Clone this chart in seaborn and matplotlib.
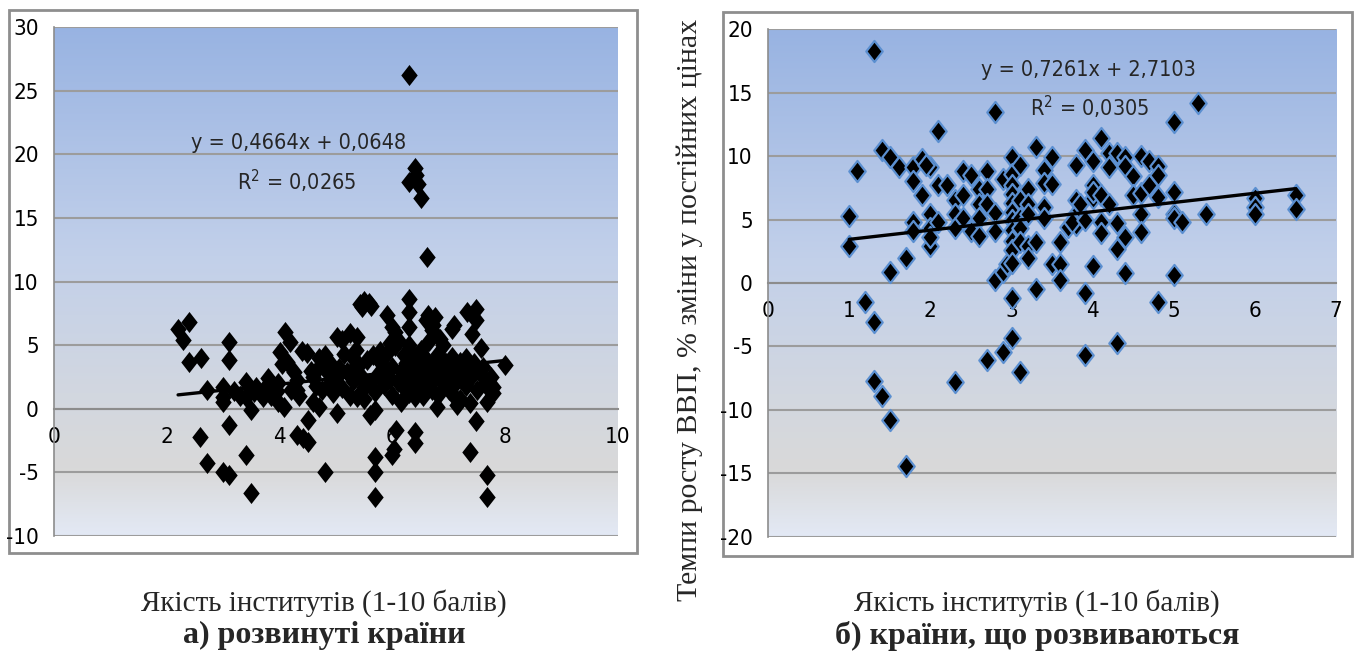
import numpy as np
import seaborn as sns
import matplotlib.pyplot as plt
from matplotlib.colors import LinearSegmentedColormap
from matplotlib.patches import Rectangle
from matplotlib.path import Path

# a) developed countries: institutional quality vs GDP growth
dev_x = [6.29, 6.40, 6.42, 6.29, 6.45, 6.51, 6.61, 6.29, 6.30, 6.30,
         5.43, 5.50, 5.58, 5.62, 5.47, 5.90, 5.99, 6.64, 6.69, 7.32,
         7.49, 7.49, 7.41, 7.05, 7.10, 7.58, 8.00, 7.49, 7.38, 7.67,
         7.67, 6.79, 7.15, 7.38, 7.67, 7.79, 7.79, 6.07, 6.02, 6.40,
         6.40, 5.99, 2.20, 2.40, 2.29, 2.40, 2.60, 2.71, 2.59, 2.71,
         3.00, 3.00, 3.00, 3.10, 3.10, 3.10, 3.00, 3.10, 3.41, 3.41,
         3.50, 3.41, 3.50, 3.59, 3.71, 3.80, 3.98, 3.98, 4.07, 3.95,
         3.85, 3.65, 4.10, 4.18, 4.00, 4.13, 4.30, 4.30, 4.30, 4.42,
         4.51, 4.51, 4.48, 4.40, 4.69, 4.80, 4.69, 4.80, 4.75, 4.89,
         5.01, 5.10, 5.01, 5.25, 5.37, 5.30, 5.30, 5.37, 5.49, 5.60,
         5.69, 5.69, 5.69, 5.69, 5.78, 5.83,
         4.55, 4.60, 4.65, 4.70, 4.85, 4.90, 4.95, 5.00, 5.05, 5.10,
         5.15, 5.20, 5.25, 5.30, 5.35, 5.40, 5.45, 5.50, 5.55, 5.60,
         5.65, 5.70, 5.75, 5.80, 5.85, 5.90, 5.95, 6.00, 6.00, 6.05,
         6.10, 6.10, 6.15, 6.15, 6.20, 6.20, 6.25, 6.25, 6.30, 6.30,
         6.35, 6.35, 6.35, 6.40, 6.40, 6.45, 6.45, 6.50, 6.50, 6.55,
         6.55, 6.60, 6.60, 6.65, 6.65, 6.70, 6.70, 6.75, 6.80, 6.80,
         6.85, 6.90, 6.90, 6.95, 7.00, 7.00, 7.05, 7.10, 7.10, 7.15,
         7.20, 7.20, 7.25, 7.30, 7.30, 7.35, 7.40, 7.45, 7.50, 7.55,
         7.60, 7.65, 7.70, 7.75,
         5.95, 6.05, 6.70, 6.85, 6.60, 6.75, 6.72,
         4.05, 4.25, 4.35, 4.60, 4.20, 3.90, 3.75, 3.55, 3.45, 3.30, 3.20]
dev_y = [26.2, 18.9, 18.4, 17.8, 17.7, 16.6, 11.9, 8.6, 7.6, 6.45,
         8.2, 8.5, 8.3, 8.1, 8.0, 7.4, 6.45, 7.4, 6.9, 7.6,
         7.8, 7.0, 5.9, 6.25, 6.6, 4.75, 3.4, -1.0, -3.4, -5.2,
         -6.9, 0.16, 0.3, 0.43, 0.55, 1.73, 1.2, -1.67, -3.2, -1.8,
         -2.7, -3.6, 6.3, 6.8, 5.4, 3.7, 3.95, 1.47, -2.2, -4.3,
         1.73, 0.94, 0.55, 5.27, 3.83, -1.27, -4.95, -5.2, 2.13, 0.95,
         -0.1, -3.63, -6.6, 1.73, 0.95, 2.4, 2.0, 0.55, 0.15, 1.4,
         1.0, 1.2, 6.05, 5.27, 4.48, 3.7, 2.26, 1.47, -2.06, -2.3,
         -2.6, -0.88, 4.35, 4.5, 3.96, 4.2, 0.16, -4.95, 1.47, 2.0,
         5.66, 5.4, -0.36, 5.93, 5.66, 4.0, 3.1, 0.9, 0.8, -0.5,
         -0.1, -3.77, -4.95, -6.9, 4.5, 3.1,
         3.0, 2.5, 1.8, 3.3, 2.8, 3.6, 1.2, 2.4, 3.2, 1.6,
         4.3, 2.9, 1.0, 2.2, 4.6, 3.4, 2.6, 1.7, 3.8, 2.0,
         4.2, 1.3, 2.7, 3.6, 1.9, 4.4, 2.4, 3.3, 1.1, 4.9,
         2.1, 5.4, 3.0, 0.5, 1.6, 4.2, 2.6, 3.6, 1.2, 5.0,
         2.2, 3.2, 4.3, 0.9, 2.8, 3.8, 1.8, 2.4, 4.6, 3.2,
         1.0, 2.0, 3.9, 2.9, 5.3, 1.5, 3.5, 2.4, 4.3, 1.1,
         3.0, 2.0, 5.0, 3.6, 1.5, 2.6, 4.1, 3.1, 1.0, 2.2,
         3.7, 0.8, 2.8, 1.8, 4.0, 3.2, 2.5, 3.6, 1.5, 2.8,
         3.3, 2.0, 1.6, 2.5,
         5.2, 6.0, 6.2, 5.5, 7.0, 7.2, 6.6,
         3.5, 2.9, 1.0, 0.5, 1.5, 1.8, 1.6, 1.3, 1.7, 1.0, 1.4]

# b) developing countries
dvp_x = [1.31, 1.0, 1.0, 1.1, 1.2, 1.31, 1.31, 1.4, 1.5, 1.7,
         1.4, 1.5, 1.61, 1.5, 1.7, 1.79, 1.79, 1.9, 1.9, 1.79,
         1.79, 2.0, 2.0, 2.0, 2.0, 2.1, 2.1, 2.1, 2.0, 1.95,
         2.2, 2.3, 2.3, 2.3, 2.3, 2.4, 2.4, 2.4, 2.5, 2.5,
         2.6, 2.6, 2.6, 2.6, 2.7, 2.7, 2.7, 2.7, 2.8, 2.8,
         2.8, 2.8, 2.9, 2.9, 2.9, 2.95, 3.0, 3.0, 3.0, 3.0,
         3.0, 3.0, 3.0, 3.0, 3.0, 3.0, 3.0, 3.0, 3.0, 3.1,
         3.1, 3.1, 3.1, 3.1, 3.1, 3.2, 3.2, 3.2, 3.2, 3.2,
         3.3, 3.3, 3.3, 3.4, 3.4, 3.4, 3.4, 3.5, 3.5, 3.5,
         3.6, 3.6, 3.6, 3.7, 3.8, 3.8, 3.8, 3.8, 3.75, 3.9,
         3.9, 3.9, 3.9, 3.85, 4.0, 4.0, 4.0, 4.0, 4.0, 4.1,
         4.1, 4.1, 4.1, 4.2, 4.2, 4.2, 4.3, 4.3, 4.3, 4.3,
         4.4, 4.4, 4.4, 4.4, 4.5, 4.5, 4.6, 4.6, 4.6, 4.6,
         4.7, 4.7, 4.8, 4.8, 4.8, 4.8, 5.0, 5.0, 5.0, 5.0,
         5.0, 5.1, 5.3, 5.4, 6.0, 6.0, 6.0, 6.5, 6.5]
dvp_y = [18.3, 5.3, 2.9, 8.8, -1.5, -3.1, -7.7, -8.9, -10.8, -14.4,
         10.5, 9.9, 9.1, 0.9, 2.0, 9.1, 8.0, 9.8, 6.9, 4.8,
         4.1, 9.1, 5.4, 4.3, 2.9, 7.7, 12.0, 4.8, 3.6, 9.3,
         7.7, 6.5, 5.4, 4.3, -7.8, 8.8, 6.9, 5.1, 8.5, 4.1,
         7.4, 6.2, 5.1, 3.7, 8.8, 7.4, 6.2, -6.1, 13.5, 5.5,
         4.1, 0.2, 8.2, 0.9, -5.4, 1.5, 9.9, 8.6, 7.7, 7.0,
         6.3, 5.6, 5.0, 4.2, 3.3, 2.6, 1.6, -1.2, -4.3, 9.3,
         6.5, 5.1, 4.3, 3.2, -7.0, 7.4, 6.2, 2.9, 2.0, 5.4,
         10.7, 3.2, -0.5, 8.9, 7.9, 6.0, 5.1, 9.9, 7.8, 1.5,
         3.2, 1.5, 0.2, 4.4, 9.3, 6.5, 5.4, 4.6, 4.8, 10.5,
         5.0, -0.8, -5.7, 6.2, 9.6, 7.7, 6.7, 1.3, 7.2, 11.4,
         6.9, 4.8, 3.9, 10.2, 9.1, 6.2, 10.2, 4.7, 2.7, -4.7,
         9.9, 9.2, 3.6, 0.8, 8.4, 6.9, 10.0, 5.4, 4.0, 7.1,
         9.6, 7.7, 9.2, 8.5, 6.8, -1.5, 12.7, 7.2, 5.4, 5.1,
         0.6, 4.8, 14.2, 5.4, 6.7, 6.0, 5.4, 6.9, 5.8]

# linear trend (slope, intercept, R^2) as printed on the charts
dev_fit = (0.4664, 0.0648, 0.0265)
dvp_fit = (0.7261, 2.7103, 0.0305)

serif = ['Liberation Serif', 'DejaVu Serif']

sns.set_style('white')
plt.rcParams['font.family'] = ['DejaVu Sans']
plt.rcParams['font.stretch'] = 'condensed'

bg = LinearSegmentedColormap.from_list('bg', [
    (0.0, '#98B3E2'), (0.45, '#C2D0EA'), (0.72, '#D2D7E0'),
    (0.87, '#D9D9D9'), (1.0, '#E3E9F5')])
diamond = Path([(0, 1), (0.78, 0), (0, -1), (-0.78, 0), (0, 1)],
               [Path.MOVETO, Path.LINETO, Path.LINETO, Path.LINETO, Path.CLOSEPOLY])

fig = plt.figure(figsize=(13.57, 6.52), dpi=100)

fig.add_artist(Rectangle((0.0066, 0.1518), 0.4628, 0.8328, transform=fig.transFigure,
                         fill=False, edgecolor='#8E8E8E', lw=2, zorder=-1))
fig.add_artist(Rectangle((0.5328, 0.1472), 0.4635, 0.8344, transform=fig.transFigure,
                         fill=False, edgecolor='#8E8E8E', lw=2, zorder=-1))

ax1 = fig.add_axes([0.0398, 0.1779, 0.4156, 0.7807])
ax2 = fig.add_axes([0.5660, 0.1764, 0.4186, 0.7791])


def draw_panel(ax, xs, ys, fit, xlim, ylim, xstep, ystep, edge, eq_pos, r2_pos):
    grad = np.linspace(0, 1, 256).reshape(-1, 1)
    ax.imshow(grad, extent=[xlim[0], xlim[1], ylim[0], ylim[1]], origin='upper',
              aspect='auto', cmap=bg, zorder=0)
    ax.set_axisbelow(True)
    sns.scatterplot(x=xs, y=ys, ax=ax, marker=diamond, s=230, color='black',
                    edgecolor=edge, linewidth=1.6 if edge != 'black' else 0, zorder=3)
    k, b, r2 = fit
    lx = np.array([min(xs), max(xs)])
    sns.lineplot(x=lx, y=k * lx + b, ax=ax, color='black', lw=2.4, zorder=4)
    ax.set_xlim(*xlim)
    ax.set_ylim(*ylim)
    ax.set_xticks(np.arange(xlim[0], xlim[1] + 0.01, xstep))
    ax.set_yticks(np.arange(ylim[0], ylim[1] + 0.01, ystep))
    ax.yaxis.grid(True, color='#9C9C9C', lw=1.5)
    ax.xaxis.grid(False)
    for s in ['top', 'right']:
        ax.spines[s].set_visible(False)
    ax.spines['left'].set_color('#8C8C8C')
    ax.spines['left'].set_linewidth(1.2)
    ax.spines['bottom'].set_position(('data', 0))
    ax.spines['bottom'].set_color('#8C8C8C')
    ax.spines['bottom'].set_linewidth(1.5)
    ax.tick_params(axis='both', direction='out', length=6, width=1.2,
                   color='#8C8C8C', labelsize=16, labelcolor='black')
    ax.tick_params(axis='y', pad=5)
    ax.tick_params(axis='x', pad=7)
    ax.set_xticklabels([f'{v:g}' for v in ax.get_xticks()])
    ax.set_yticklabels([f'{v:g}' for v in ax.get_yticks()])
    ax.set_xlabel('')
    ax.set_ylabel('')
    ax.text(eq_pos[0], eq_pos[1], f'y = {k:.4f}x + {b:.4f}'.replace('.', ','),
            ha='center', va='center', fontsize=15.5, zorder=5)
    ax.text(r2_pos[0], r2_pos[1], f'R$^2$ = {r2:.4f}'.replace('.', ','),
            ha='center', va='center', fontsize=15.5, zorder=5)


draw_panel(ax1, dev_x, dev_y, dev_fit, (0, 10), (-10, 30), 2, 5, 'black',
           (4.33, 20.9), (4.3, 17.9))
draw_panel(ax2, dvp_x, dvp_y, dvp_fit, (0, 7), (-20, 20), 1, 5, '#5B8FD0',
           (3.95, 16.8), (3.96, 13.8))

fig.text(0.5085, 0.5245, 'Темпи росту ВВП, % зміни у постійних цінах',
         rotation=90, ha='center', va='center', fontsize=21.5, family=serif,
         stretch='normal')
fig.text(0.2388, 0.075, 'Якість інститутів (1-10 балів)', ha='center', va='center',
         fontsize=21, family=serif, stretch='normal')
fig.text(0.2388, 0.025, 'а) розвинуті країни', ha='center', va='center',
         fontsize=23, fontweight='bold', family=serif, stretch='normal')
fig.text(0.7642, 0.075, 'Якість інститутів (1-10 балів)', ha='center', va='center',
         fontsize=21, family=serif, stretch='normal')
fig.text(0.7642, 0.025, 'б) країни, що розвиваються', ha='center', va='center',
         fontsize=23, fontweight='bold', family=serif, stretch='normal')

fig.savefig('out.png', dpi=100)
